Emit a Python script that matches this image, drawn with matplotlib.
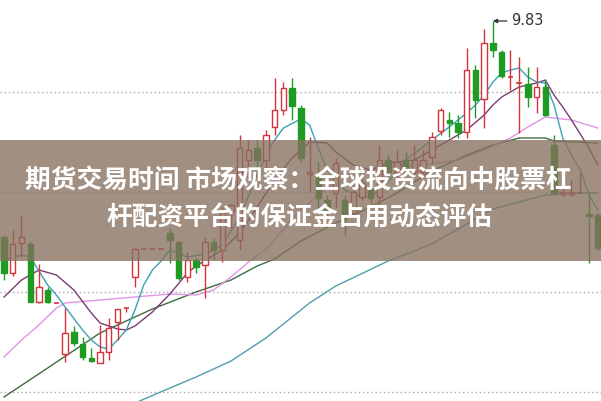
import matplotlib
matplotlib.use("Agg")
import matplotlib.pyplot as plt
from matplotlib.patches import Rectangle

plt.rcParams['font.family'] = ['Noto Sans CJK SC', 'DejaVu Sans']

# daily candles
opens = [7.67, 7.31, 7.61, 7.60, 7.02, 7.14, 7.01, 6.50, 6.72, 6.60,
         6.46, 6.41, 6.52, 6.82, 6.95, 7.27, 7.55, 7.55, 7.55, 7.71,
         7.62, 7.27, 7.44, 7.39, 7.62, 7.54, 7.92, 7.64, 8.44, 8.56,
         8.44, 8.77, 8.94, 9.16, 8.96, 8.30, 8.29, 8.04, 8.11, 8.04,
         7.91, 8.07, 8.16, 8.07, 8.44, 8.32, 8.44, 8.32, 8.32, 8.47,
         8.73, 8.84, 8.81, 8.72, 9.34, 9.05, 9.61, 9.52, 9.26, 9.20,
         9.20, 9.07, 9.17, 8.59, 8.10, 8.10, 8.11, 7.90, 7.89]
closes = [7.31, 7.60, 7.67, 7.02, 7.17, 7.02, 7.01, 6.71, 6.61, 6.47,
          6.43, 6.52, 6.76, 6.95, 6.96, 7.55, 7.55, 7.55, 7.55, 7.64,
          7.26, 7.44, 7.37, 7.62, 7.54, 7.92, 7.99, 8.56, 8.54, 8.44,
          8.69, 8.94, 9.16, 8.98, 8.46, 8.32, 8.06, 7.94, 8.41, 7.86,
          8.12, 8.21, 8.06, 8.44, 8.32, 8.42, 8.36, 8.44, 8.44, 8.67,
          8.94, 8.81, 8.72, 9.34, 9.04, 9.61, 9.54, 9.28, 9.27, 9.21,
          9.07, 9.17, 8.89, 8.11, 8.12, 8.12, 8.12, 7.88, 7.56]
highs = [7.69, 7.74, 7.89, 7.63, 7.40, 7.17, 7.01, 6.96, 6.78, 6.67,
         6.56, 6.79, 6.86, 6.95, 6.96, 7.56, 7.55, 7.55, 7.55, 7.76,
         7.62, 7.52, 7.47, 7.67, 7.66, 7.97, 8.00, 8.69, 8.64, 8.64,
         8.74, 9.26, 9.22, 9.26, 8.99, 8.67, 8.42, 8.09, 8.46, 8.09,
         8.19, 8.26, 8.21, 8.59, 8.49, 8.54, 8.52, 8.59, 8.54, 8.72,
         8.96, 8.92, 8.89, 9.56, 9.39, 9.75, 9.83, 9.54, 9.54, 9.47,
         9.37, 9.37, 9.24, 8.69, 8.19, 8.24, 8.31, 8.11, 7.91]
lows = [7.24, 7.28, 7.47, 7.02, 7.01, 7.01, 7.01, 6.42, 6.58, 6.44,
        6.42, 6.41, 6.44, 6.64, 6.92, 7.17, 7.55, 7.55, 7.55, 7.41,
        7.24, 7.22, 7.31, 7.06, 7.44, 7.42, 7.76, 7.54, 8.26, 8.37,
        8.34, 8.69, 8.89, 8.84, 8.42, 8.12, 7.92, 7.89, 7.97, 7.69,
        7.88, 8.04, 7.97, 7.96, 8.24, 8.24, 8.29, 8.26, 8.26, 8.41,
        8.69, 8.67, 8.66, 8.66, 8.86, 8.76, 9.47, 9.26, 9.14, 8.71,
        8.97, 8.91, 8.88, 8.09, 8.08, 8.08, 8.11, 7.41, 7.54]

# moving average lines, sampled at some candle positions
ma5_x = [0, 2, 3, 5, 6, 7, 9, 10, 11, 12, 13, 14, 15, 16, 17, 18, 19, 21, 23, 25,
         27, 29, 30, 31, 32, 34, 35, 36, 37, 39, 41, 42, 44, 46, 48, 49, 51, 53, 54,
         55, 56, 57, 58, 59, 60, 61, 62, 63, 64, 65, 66, 67, 68]
ma5_y = [7.44, 7.49, 7.47, 7.19, 7.09, 6.97, 6.74, 6.64, 6.57, 6.55, 6.64, 6.74,
         6.94, 7.19, 7.34, 7.43, 7.54, 7.47, 7.50, 7.59, 7.87, 8.29, 8.49, 8.64,
         8.76, 8.85, 8.79, 8.56, 8.34, 8.14, 8.07, 8.07, 8.22, 8.44, 8.57, 8.64,
         8.77, 8.91, 8.99, 9.09, 9.22, 9.31, 9.34, 9.36, 9.27, 9.22, 9.21, 8.99,
         8.66, 8.49, 8.34, 8.09, 7.94]

ma10_x = [0, 2, 4, 6, 8, 10, 11, 13, 14, 15, 17, 19, 21, 22, 25, 27, 29, 31, 33,
          35, 37, 38, 40, 42, 44, 47, 49, 53, 55, 56, 57, 59, 61, 62, 63, 64, 65, 67, 68]
ma10_y = [7.07, 7.24, 7.34, 7.29, 7.14, 6.91, 6.81, 6.75, 6.74, 6.78, 6.92, 7.10,
          7.31, 7.38, 7.54, 7.71, 7.97, 8.24, 8.46, 8.62, 8.61, 8.52, 8.39, 8.34,
          8.41, 8.44, 8.54, 8.74, 8.89, 8.99, 9.07, 9.17, 9.21, 9.24, 9.09, 8.97,
          8.84, 8.56, 8.39]

ma20_x = [0, 2, 4, 6, 7, 11, 15, 19, 22, 24, 26, 28, 30, 34, 37, 40, 43, 48, 52,
          55, 58, 60, 62, 65, 68]
ma20_y = [6.47, 6.64, 6.79, 6.96, 7.01, 7.04, 7.07, 7.10, 7.09, 7.14, 7.27, 7.42,
          7.55, 7.94, 8.16, 8.29, 8.36, 8.39, 8.44, 8.54, 8.66, 8.77, 8.87, 8.84, 8.76]

ma60_x = [0, 5, 11, 17, 22, 26, 29, 31, 34, 38, 42, 45, 49, 53, 56, 59, 62, 63, 68]
ma60_y = [6.07, 6.36, 6.71, 6.95, 7.12, 7.24, 7.38, 7.45, 7.63, 7.81, 7.97, 8.11,
          8.33, 8.49, 8.59, 8.66, 8.66, 8.63, 8.61]

ma120_x = [15, 19, 22, 26, 30, 35, 38, 44, 49, 56, 62, 65, 68]
ma120_y = [6.01, 6.16, 6.27, 6.43, 6.66, 7.01, 7.18, 7.43, 7.60, 7.95, 8.09, 8.11, 8.11]

grid_levels = [9.12, 8.12, 7.12, 6.12]
peak_idx = 56
title_1 = "期货交易时间 市场观察：全球投资流向中股票杠"
title_2 = "杆配资平台的保证金占用动态评估"

red = '#d8303c'
green = '#1f9a22'

fig = plt.figure(figsize=(6.01, 4.01), dpi=100)
ax = fig.add_axes([0, 0, 1, 1])

for lv in grid_levels:
    ax.axhline(lv, color='#a8a8a8', lw=1, ls=(0, (1, 2)), zorder=0)

ax.plot(ma120_x, ma120_y, color='#4f9fad', lw=1, zorder=1)
ax.plot(ma60_x, ma60_y, color='#3f6b3f', lw=1, zorder=1)
ax.plot(ma20_x, ma20_y, color='#e294e6', lw=1, zorder=1)
ax.plot(ma10_x, ma10_y, color='#7c3b72', lw=1, zorder=1)
ax.plot(ma5_x, ma5_y, color='#3aa2b3', lw=1, zorder=1)

w = 0.62
for i in range(len(opens)):
    o, c, h, l = opens[i], closes[i], highs[i], lows[i]
    col = red if c >= o else green
    ax.vlines(i, l, h, color=col, lw=1, zorder=2)
    if abs(c - o) < 0.015:
        ax.hlines((o + c) / 2, i - w / 2, i + w / 2, color=col, lw=1.2, zorder=3)
    elif c > o:
        ax.bar(i, c - o, bottom=o, width=w, facecolor='white', edgecolor=col,
               lw=1, zorder=3)
    else:
        ax.bar(i, o - c, bottom=c, width=w, facecolor=col, edgecolor=col,
               lw=1, zorder=3)

ax.annotate(f"{highs[peak_idx]:.2f}", xy=(peak_idx, highs[peak_idx]),
            xytext=(18, 0), textcoords='offset pixels', va='center', ha='left',
            fontsize=10.5, color='#333333', family=['DejaVu Sans'],
            arrowprops=dict(arrowstyle='-|>', color='#333333', lw=0.9,
                            mutation_scale=6, shrinkA=1, shrinkB=0))

ax.set_xlim(-0.46, 68.38)
ax.set_ylim(6.03, 10.04)
ax.axis('off')

# title banner over the chart
fig.patches.append(Rectangle((0, 1 - 261 / 401), 1, 121 / 401,
                             transform=fig.transFigure, facecolor='#87705f',
                             alpha=0.78, edgecolor='none', zorder=5))
fig.text(0.497, 1 - 180 / 401, title_1, ha='center', va='center', color='white',
         fontsize=18.5, fontweight='bold', zorder=6)
fig.text(0.499, 1 - 218 / 401, title_2, ha='center', va='center', color='white',
         fontsize=18.5, fontweight='bold', zorder=6)

fig.savefig('out.png', dpi=100)
